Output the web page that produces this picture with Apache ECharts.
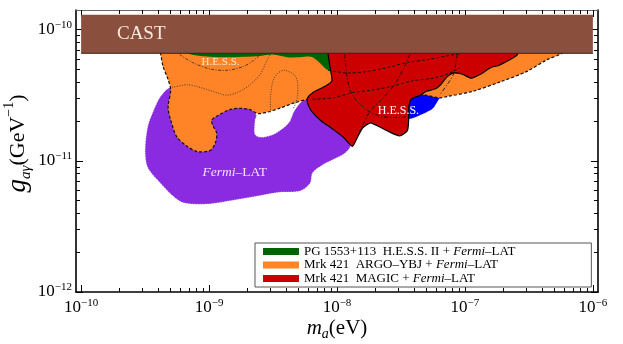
<!DOCTYPE html>
<html><head><meta charset="utf-8">
<script src="https://cdn.jsdelivr.net/npm/echarts@6/dist/echarts.min.js"></script>
<style>html,body{margin:0;padding:0;background:#fff}#c{width:623px;height:344px}</style>
</head><body><div id="c"></div>
<script>
// All values are decimal logarithms: log10(m_a / eV), log10(g_ag / GeV^-1)
const xTickExps = [-10, -9, -8, -7, -6];
const yTickExps = [-12, -11, -10];
const xRange = [-10.04, -5.96];
const yRange = [-12, -9.85];

const castLog = [[-10, -10.18], [-6, -10.18], [-6, -9.886], [-10, -9.886]];

const fermiLog = [[-9.30,-10.44],[-9.38,-10.51],[-9.44,-10.63],[-9.48,-10.74],[-9.50,-10.92],[-9.48,-11.05],[-9.38,-11.17],[-9.28,-11.27],[-9.20,-11.32],[-9.02,-11.33],[-8.81,-11.30],[-8.63,-11.27],[-8.45,-11.24],[-8.29,-11.23],[-8.21,-11.17],[-8.19,-11.09],[-8.11,-11.03],[-8.03,-10.99],[-7.95,-10.95],[-7.90,-10.90],[-7.86,-10.73],[-7.98,-10.53],[-8.13,-10.48],[-8.23,-10.52],[-8.29,-10.56],[-8.34,-10.63],[-8.37,-10.70],[-8.42,-10.75],[-8.50,-10.80],[-8.59,-10.82],[-8.64,-10.80],[-8.64,-10.69],[-8.63,-10.65],[-8.68,-10.60],[-8.84,-10.53],[-9.07,-10.48]];

const hessLog = [[-7.51,-10.55],[-7.47,-10.68],[-7.43,-10.68],[-7.37,-10.66],[-7.30,-10.63],[-7.25,-10.60],[-7.21,-10.54],[-7.19,-10.51],[-7.16,-10.46],[-7.27,-10.43],[-7.43,-10.46]];

const pg1553Log = [[-9.21,-10.14],[-8.01,-10.14],[-8.01,-10.32],[-9.21,-10.32]];

const argoLog = [[-9.40,-10.14],[-9.38,-10.18],[-9.36,-10.28],[-9.32,-10.38],[-9.30,-10.46],[-9.32,-10.59],[-9.30,-10.69],[-9.25,-10.82],[-9.17,-10.89],[-9.09,-10.93],[-8.99,-10.92],[-8.95,-10.86],[-8.94,-10.79],[-8.97,-10.73],[-8.98,-10.69],[-8.94,-10.66],[-8.84,-10.61],[-8.76,-10.60],[-8.68,-10.61],[-8.62,-10.64],[-8.55,-10.63],[-8.45,-10.60],[-8.34,-10.56],[-8.23,-10.53],[-8.13,-10.50],[-7.90,-10.51],[-7.51,-10.47],[-7.30,-10.50],[-7.20,-10.52],[-7.14,-10.51],[-6.94,-10.47],[-6.73,-10.40],[-6.52,-10.32],[-6.36,-10.23],[-6.24,-10.18],[-6.21,-10.14],[-8.01,-10.14],[-8.02,-10.31],[-8.07,-10.31],[-8.19,-10.21],[-8.29,-10.21],[-8.39,-10.21],[-8.50,-10.19],[-8.60,-10.20],[-8.86,-10.21],[-9.07,-10.20],[-9.17,-10.18],[-9.19,-10.14]];
const argoOutlineCount = 36;

const magicLog = [[-8.06,-10.14],[-8.07,-10.18],[-8.05,-10.31],[-8.04,-10.39],[-8.09,-10.43],[-8.19,-10.48],[-8.23,-10.52],[-8.23,-10.56],[-8.20,-10.62],[-8.13,-10.69],[-8.03,-10.76],[-7.95,-10.82],[-7.88,-10.89],[-7.84,-10.82],[-7.80,-10.75],[-7.74,-10.71],[-7.69,-10.73],[-7.61,-10.77],[-7.51,-10.81],[-7.45,-10.77],[-7.44,-10.69],[-7.44,-10.60],[-7.42,-10.53],[-7.35,-10.50],[-7.30,-10.47],[-7.23,-10.45],[-7.19,-10.42],[-7.14,-10.36],[-7.09,-10.33],[-7.02,-10.34],[-6.95,-10.37],[-6.88,-10.34],[-6.80,-10.29],[-6.73,-10.27],[-6.65,-10.23],[-6.59,-10.19],[-6.58,-10.14]];

// inner contour lines
const hess2Arc = [[-9.23,-10.19],[-9.13,-10.25],[-8.99,-10.30],[-8.86,-10.31],[-8.73,-10.28],[-8.66,-10.24],[-8.60,-10.19]];
const dottedA = [[-9.29,-10.44],[-9.17,-10.42],[-9.07,-10.44],[-8.94,-10.48],[-8.86,-10.50],[-8.76,-10.47],[-8.68,-10.42],[-8.60,-10.34],[-8.55,-10.24],[-8.52,-10.19]];
const dottedLoop = [[-8.52,-10.63],[-8.52,-10.52],[-8.50,-10.39],[-8.46,-10.33],[-8.41,-10.31],[-8.34,-10.34],[-8.31,-10.39],[-8.31,-10.52],[-8.34,-10.60]];
const dashDotA = [[-7.94,-10.19],[-7.92,-10.37],[-7.88,-10.50],[-7.77,-10.61],[-7.66,-10.66],[-7.51,-10.67],[-7.41,-10.66]];
const dashDotB = [[-7.43,-10.19],[-7.53,-10.39],[-7.64,-10.52],[-7.74,-10.62],[-7.80,-10.73],[-7.84,-10.81]];
const dashDotC = [[-7.06,-10.19],[-7.09,-10.34],[-7.14,-10.42],[-7.20,-10.50]];
const dashedUpper = [[-8.07,-10.31],[-7.92,-10.33],[-7.77,-10.32],[-7.61,-10.29],[-7.45,-10.25],[-7.30,-10.23],[-7.14,-10.20],[-7.02,-10.18]];
const dashedLower = [[-8.19,-10.53],[-8.03,-10.52],[-7.88,-10.48],[-7.72,-10.46],[-7.56,-10.43],[-7.41,-10.39],[-7.25,-10.37],[-7.14,-10.34],[-7.04,-10.29]];

// annotations
const annotPos = [[-9.53,-10.03],[-8.91,-10.25],[-7.52,-10.62],[-8.80,-11.09]];
const annotText = ['CAST', 'H.E.S.S.', 'H.E.S.S.', '{i|Fermi}{n|–LAT}'];

const legendNames = ['PG 1553+113  H.E.S.S. II + Fermi–LAT', 'Mrk 421  ARGO–YBJ + Fermi–LAT', 'Mrk 421  MAGIC + Fermi–LAT'];
const legendRich = {
  'PG 1553+113  H.E.S.S. II + Fermi–LAT': '{n|PG 1553+113  H.E.S.S. II + }{i|Fermi}{n|–LAT}',
  'Mrk 421  ARGO–YBJ + Fermi–LAT': '{n|Mrk 421  ARGO–YBJ + }{i|Fermi}{n|–LAT}',
  'Mrk 421  MAGIC + Fermi–LAT': '{n|Mrk 421  MAGIC + }{i|Fermi}{n|–LAT}'
};

const FONT = '"Liberation Serif","Times New Roman",serif';

function minorTicks(exps, range) {
  const out = [];
  for (let e = exps[0] - 1; e <= exps[exps.length - 1]; e++) {
    for (let k = 2; k <= 9; k++) {
      const v = e + Math.log10(k);
      if (v >= range[0] && v <= range[1]) out.push(v);
    }
  }
  return out;
}
const xMinor = minorTicks(xTickExps, xRange);
const yMinor = minorTicks(yTickExps, yRange);

const supRich = {
  b: {fontFamily: FONT, fontSize: 17, lineHeight: 20, color: '#000'},
  s: {fontFamily: FONT, fontSize: 11, lineHeight: 11, verticalAlign: 'top', color: '#000'}
};
function expLabel(v) { return '{b|10}{s|−' + Math.abs(Math.round(v)) + '}'; }

function makeAxis(range, pos, ticks, len, opts) {
  const o = {
    type: 'value', min: range[0], max: range[1], position: pos,
    splitLine: {show: false},
    axisLine: {show: !!opts.line, onZero: false, lineStyle: {color: opts.lineColor || '#000', width: opts.lineWidth || 1.6}},
    axisTick: {show: true, inside: true, length: len, customValues: ticks, lineStyle: {color: '#000', width: 1}},
    axisLabel: {show: false}
  };
  if (opts.labels) {
    o.axisLabel = {show: true, customValues: ticks, formatter: expLabel, rich: supRich, margin: opts.margin};
  }
  return o;
}

const xAxes = [
  makeAxis(xRange, 'bottom', xTickExps, 7, {line: true, labels: true, margin: 6}),
  makeAxis(xRange, 'bottom', xMinor, 4, {}),
  makeAxis(xRange, 'top', xTickExps, 7, {line: true, lineColor: '#666', lineWidth: 1}),
  makeAxis(xRange, 'top', xMinor, 4, {})
];
xAxes[0].name = '{m|m}{a|a}{p|(eV)}';
xAxes[0].nameLocation = 'middle';
xAxes[0].nameGap = 23;
xAxes[0].nameMoveOverlap = false;
xAxes[0].nameTextStyle = {rich: {
  m: {fontFamily: FONT, fontStyle: 'italic', fontSize: 21, lineHeight: 26, color: '#000'},
  a: {fontFamily: FONT, fontStyle: 'italic', fontSize: 14, lineHeight: 14, verticalAlign: 'bottom', color: '#000'},
  p: {fontFamily: FONT, fontSize: 21, lineHeight: 26, color: '#000'}
}};

const yAxes = [
  makeAxis(yRange, 'left', yTickExps, 7, {line: true, labels: true, margin: 4}),
  makeAxis(yRange, 'left', yMinor, 4, {}),
  makeAxis(yRange, 'right', yTickExps, 7, {line: true}),
  makeAxis(yRange, 'right', yMinor, 4, {})
];
yAxes[0].name = '{g|g}{s|aγ}{p|(GeV}{u|−1}{p|)}';
yAxes[0].nameLocation = 'middle';
yAxes[0].nameRotate = 90;
yAxes[0].nameGap = 42;
yAxes[0].nameMoveOverlap = false;
yAxes[0].nameTextStyle = {padding: [0, 0, 0, 15], rich: {
  g: {fontFamily: FONT, fontStyle: 'italic', fontSize: 27, lineHeight: 32, color: '#000'},
  s: {fontFamily: FONT, fontStyle: 'italic', fontSize: 15, lineHeight: 15, verticalAlign: 'bottom', color: '#000'},
  p: {fontFamily: FONT, fontSize: 22, lineHeight: 32, color: '#000'},
  u: {fontFamily: FONT, fontSize: 14, lineHeight: 14, verticalAlign: 'top', color: '#000'}
}};

function polySeries(name, pts, fill, stroke, smooth) {
  return {
    type: 'custom', name: name, coordinateSystem: 'cartesian2d', xAxisIndex: 0, yAxisIndex: 0,
    data: pts, clip: true, silent: true, itemStyle: {color: fill},
    renderItem: function (params, api) {
      if (params.dataIndex !== 0) return {type: 'group', children: []};
      const points = pts.map(function (p) { return api.coord(p); });
      return {type: 'polygon', shape: {points: points, smooth: smooth || 0},
        style: Object.assign({fill: fill, stroke: null, lineWidth: 0}, stroke || {})};
    }
  };
}
function lineSeries(pts, color, width, dash, smooth) {
  return {
    type: 'custom', coordinateSystem: 'cartesian2d', xAxisIndex: 0, yAxisIndex: 0,
    data: pts, clip: true, silent: true,
    renderItem: function (params, api) {
      if (params.dataIndex !== 0) return {type: 'group', children: []};
      const points = pts.map(function (p) { return api.coord(p); });
      return {type: 'polyline', shape: {points: points, smooth: smooth || 0},
        style: {fill: null, stroke: color, lineWidth: width, lineDash: dash}};
    }
  };
}

const annotStyle = [
  {fontSize: 19, fill: '#f6ece2'},
  {fontSize: 11, fill: '#fbe8d6'},
  {fontSize: 12, fill: '#ffffff'},
  {fontSize: 13.5, fill: '#f1e4fb'}
];

const series = [
  polySeries('fermi', fermiLog, '#8a2be2', {stroke: 'rgba(255,255,255,0.75)', lineWidth: 1, lineDash: [1, 1.5]}, 0.3),
  polySeries('hess', hessLog, '#0000ff', null, 0.3),
  polySeries(legendNames[0], pg1553Log, '#006400', null, 0),
  polySeries(legendNames[1], argoLog, '#ff8427', null, 0.3),
  lineSeries(argoLog.slice(0, argoOutlineCount), '#111', 1.2, [3, 2], 0.3),
  lineSeries(hess2Arc, '#333', 0.9, [3, 1.5, 1, 1.5], 0.3),
  lineSeries(dottedA, '#333', 0.9, [1, 1.5], 0.3),
  lineSeries(dottedLoop, '#333', 0.9, [1, 1.5], 0.3),
  polySeries(legendNames[2], magicLog, '#cc0000', {stroke: '#000', lineWidth: 1.2}, 0.2),
  lineSeries(dashDotA, '#111', 0.9, [4, 2, 1, 2], 0.3),
  lineSeries(dashDotB, '#111', 0.9, [4, 2, 1, 2], 0.3),
  lineSeries(dashDotC, '#111', 0.9, [4, 2, 1, 2], 0.3),
  lineSeries(dashedUpper, '#111', 1, [3, 2], 0.3),
  lineSeries(dashedLower, '#111', 1, [3, 2], 0.3),
  polySeries('CAST', castLog, '#8a4f3d', null, 0),
  lineSeries([castLog[0], castLog[1]], '#3a2016', 1, null, 0),
  {
    type: 'custom', coordinateSystem: 'cartesian2d', xAxisIndex: 0, yAxisIndex: 0,
    data: annotPos, silent: true, clip: false,
    renderItem: function (params, api) {
      const i = params.dataIndex;
      const p = api.coord([api.value(0), api.value(1)]);
      const st = annotStyle[i];
      return {type: 'text', x: p[0], y: p[1], style: {
        text: annotText[i], fill: st.fill, fontFamily: FONT, fontSize: st.fontSize,
        align: 'center', verticalAlign: 'middle',
        rich: {
          i: {fill: st.fill, fontFamily: FONT, fontStyle: 'italic', fontSize: st.fontSize},
          n: {fill: st.fill, fontFamily: FONT, fontSize: st.fontSize}
        }
      }};
    }
  }
];

const chart = echarts.init(document.getElementById('c'), null, {renderer: 'canvas'});
chart.setOption({
  animation: false,
  backgroundColor: '#fff',
  grid: {left: 76, right: 25, top: 10, bottom: 52, containLabel: false, outerBoundsMode: 'none'},
  xAxis: xAxes,
  yAxis: yAxes,
  legend: {
    data: legendNames, orient: 'vertical', left: 255, top: 243,
    itemWidth: 36, itemHeight: 7, itemGap: 0.5, icon: 'rect',
    padding: [2, 76, 2, 8], borderColor: '#555', borderWidth: 1, backgroundColor: '#fff',
    selectedMode: false,
    formatter: function (n) { return legendRich[n]; },
    textStyle: {fontFamily: FONT, fontSize: 13, lineHeight: 13, color: '#000', rich: {
      n: {fontFamily: FONT, fontSize: 13, lineHeight: 13, color: '#000'},
      i: {fontFamily: FONT, fontStyle: 'italic', fontSize: 13, lineHeight: 13, color: '#000'}
    }}
  },
  series: series
});
</script>
</body></html>
